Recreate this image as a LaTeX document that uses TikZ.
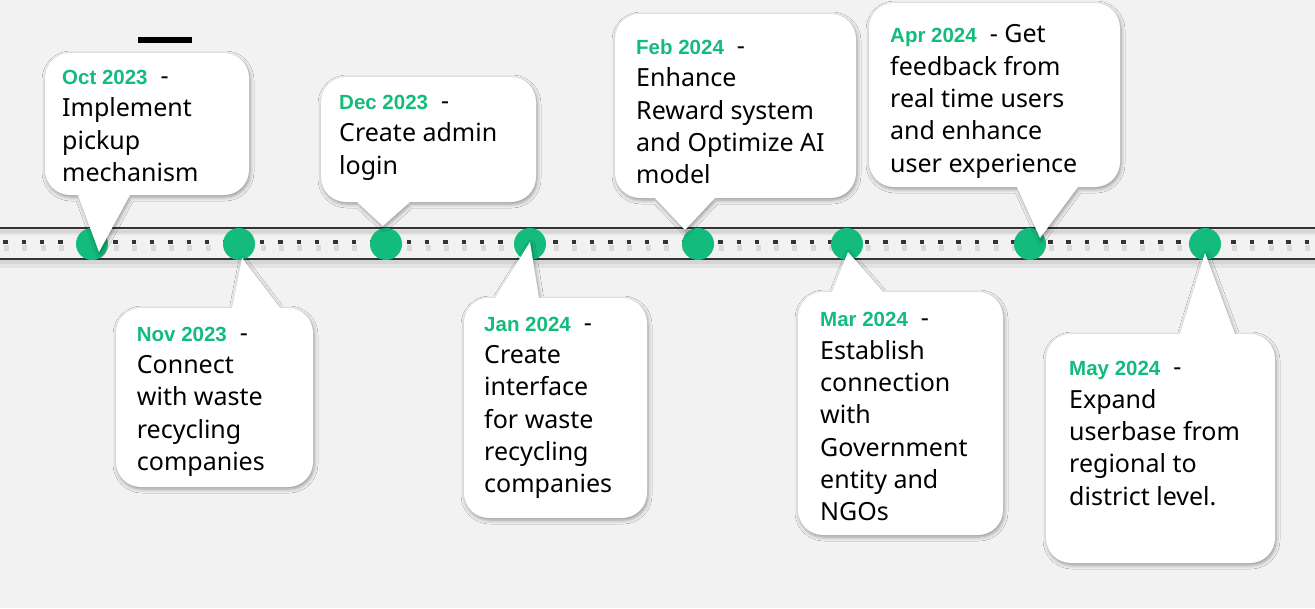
\documentclass[tikz,border=0pt]{standalone}
\usepackage{fontspec}
\setmainfont{Noto Sans}
\newfontfamily\datefont{Liberation Sans}
\usetikzlibrary{shadows.blur}

\definecolor{tlgreen}{HTML}{13BB7C}
\definecolor{tlgrey}{HTML}{333333}
\definecolor{slide}{HTML}{F2F2F2}

\newcommand{\tldate}[1]{{\datefont\bfseries\color{tlgreen}\fontsize{20.5}{32}\selectfont #1}~~-\strut}

\tikzset{
  milestone/.style={circle, fill=tlgreen, minimum size=32pt, inner sep=0pt},
  bubble/.style={fill=white, blur shadow={shadow xshift=1pt, shadow yshift=-2pt, shadow blur radius=4pt, shadow opacity=40}},
  note/.style={anchor=north west, yshift=22.6pt, align=left, inner sep=0pt, font=\fontsize{25}{32.3}\selectfont},
  rail/.style={tlgrey, line width=2.5pt},
  railshadow/.style={black, opacity=0.06, line width=#1}
}

\begin{document}
\begin{tikzpicture}[x=1pt,y=-1pt]
		\fill[slide] (0,0) rectangle (1315,608);
		\useasboundingbox (0,0) rectangle (1315,608);
		
		% timeline band
		\draw[railshadow=6pt] (0,232) -- (1315,232);
		\draw[railshadow=3pt] (0,231) -- (1315,231);
		\draw[railshadow=8pt] (0,264) -- (1315,264);
		\draw[railshadow=4pt] (0,262) -- (1315,262);
		\draw[black, opacity=0.10, line width=6pt, dash pattern=on 5pt off 13.33pt] (4,248) -- (1315,248);
		\draw[rail] (0,228) -- (1315,228);
		\draw[rail] (0,259) -- (1315,259);
		\draw[tlgrey, line width=4.5pt, dash pattern=on 4.5pt off 13.83pt] (3.3,242) -- (1315,242);
		
		\fill[black] (138,37) rectangle (192,43);
		
		% milestones
		\node[milestone] (m1) at (92,244) {};
		\node[milestone] (m2) at (239,244) {};
		\node[milestone] (m3) at (386,244) {};
		\node[milestone] (m4) at (530,244) {};
		\node[milestone] (m5) at (698,244) {};
		\node[milestone] (m6) at (847,244) {};
		\node[milestone] (m7) at (1030,244) {};
		\node[milestone] (m8) at (1205,244) {};
		
		% callouts above
		\path[bubble] [rounded corners=25pt] (45,53) -- (249,53) -- (249,195) -- (45,195) -- cycle
			[sharp corners] (130,195) -- ([shift={(7,8)}]m1.center) -- (78,195) -- cycle;
		\node[note] (c1) at (62,84.3) {\tldate{Oct 2023}\\Implement\\pickup\\mechanism};
		
		\path[bubble] [rounded corners=25pt] (321,77) -- (536,77) -- (536,202) -- (321,202) -- cycle
			[sharp corners] (410,202) -- ([shift={(-3,-18)}]m3.center) -- (357,202) -- cycle;
		\node[note] (c3) at (339,109.3) {\tldate{Dec 2023}\\Create admin\\login};
		
		\path[bubble] [rounded corners=25pt] (615,14) -- (856,14) -- (856,198) -- (615,198) -- cycle
			[sharp corners] (715,198) -- ([shift={(-13,-14)}]m5.center) -- (655,198) -- cycle;
		\node[note] (c5) at (636,54.3) {\tldate{Feb 2024}\\Enhance\\Reward system\\and Optimize AI\\model};
		
		\path[bubble] [rounded corners=25pt] (869,3) -- (1120,3) -- (1120,187) -- (869,187) -- cycle
			[sharp corners] (1078,187) -- ([shift={(10,-6)}]m7.center) -- (1017,187) -- cycle;
		\node[note] (c7) at (890,42.7) {\tldate{Apr 2024} Get\\feedback from\\real time users\\and enhance\\user experience};
		
		% callouts below
		\path[bubble] [rounded corners=25pt] (116,308) -- (313,308) -- (313,487) -- (116,487) -- cycle
			[sharp corners] (232,308) -- ([shift={(3,14)}]m2.center) -- (280,308) -- cycle;
		\node[note] (c2) at (136.7,341) {\tldate{Nov 2023}\\Connect\\with waste\\recycling\\companies};
		
		\path[bubble] [rounded corners=25pt] (464,298) -- (647,298) -- (647,518) -- (464,518) -- cycle
			[sharp corners] (495,298) -- ([shift={(0,-2)}]m4.center) -- (539,298) -- cycle;
		\node[note] (c4) at (484,331) {\tldate{Jan 2024}\\Create\\interface\\for waste\\recycling\\companies};
		
		\path[bubble] [rounded corners=25pt] (798,292) -- (1003,292) -- (1003,535) -- (798,535) -- cycle
			[sharp corners] (832,292) -- ([shift={(1,8)}]m6.center) -- (883,292) -- cycle;
		\node[note] (c6) at (820,326.7) {\tldate{Mar 2024}\\Establish\\connection\\with\\Government\\entity and\\NGOs};
		
		\path[bubble] [rounded corners=25pt] (1046,334) -- (1275,334) -- (1275,563) -- (1046,563) -- cycle
			[sharp corners] (1180,334) -- ([shift={(0,9)}]m8.center) -- (1235,334) -- cycle;
		\node[note] (c8) at (1069,375.7) {\tldate{May 2024}\\Expand\\userbase from\\regional to\\district level.};
\end{tikzpicture}
\end{document}
